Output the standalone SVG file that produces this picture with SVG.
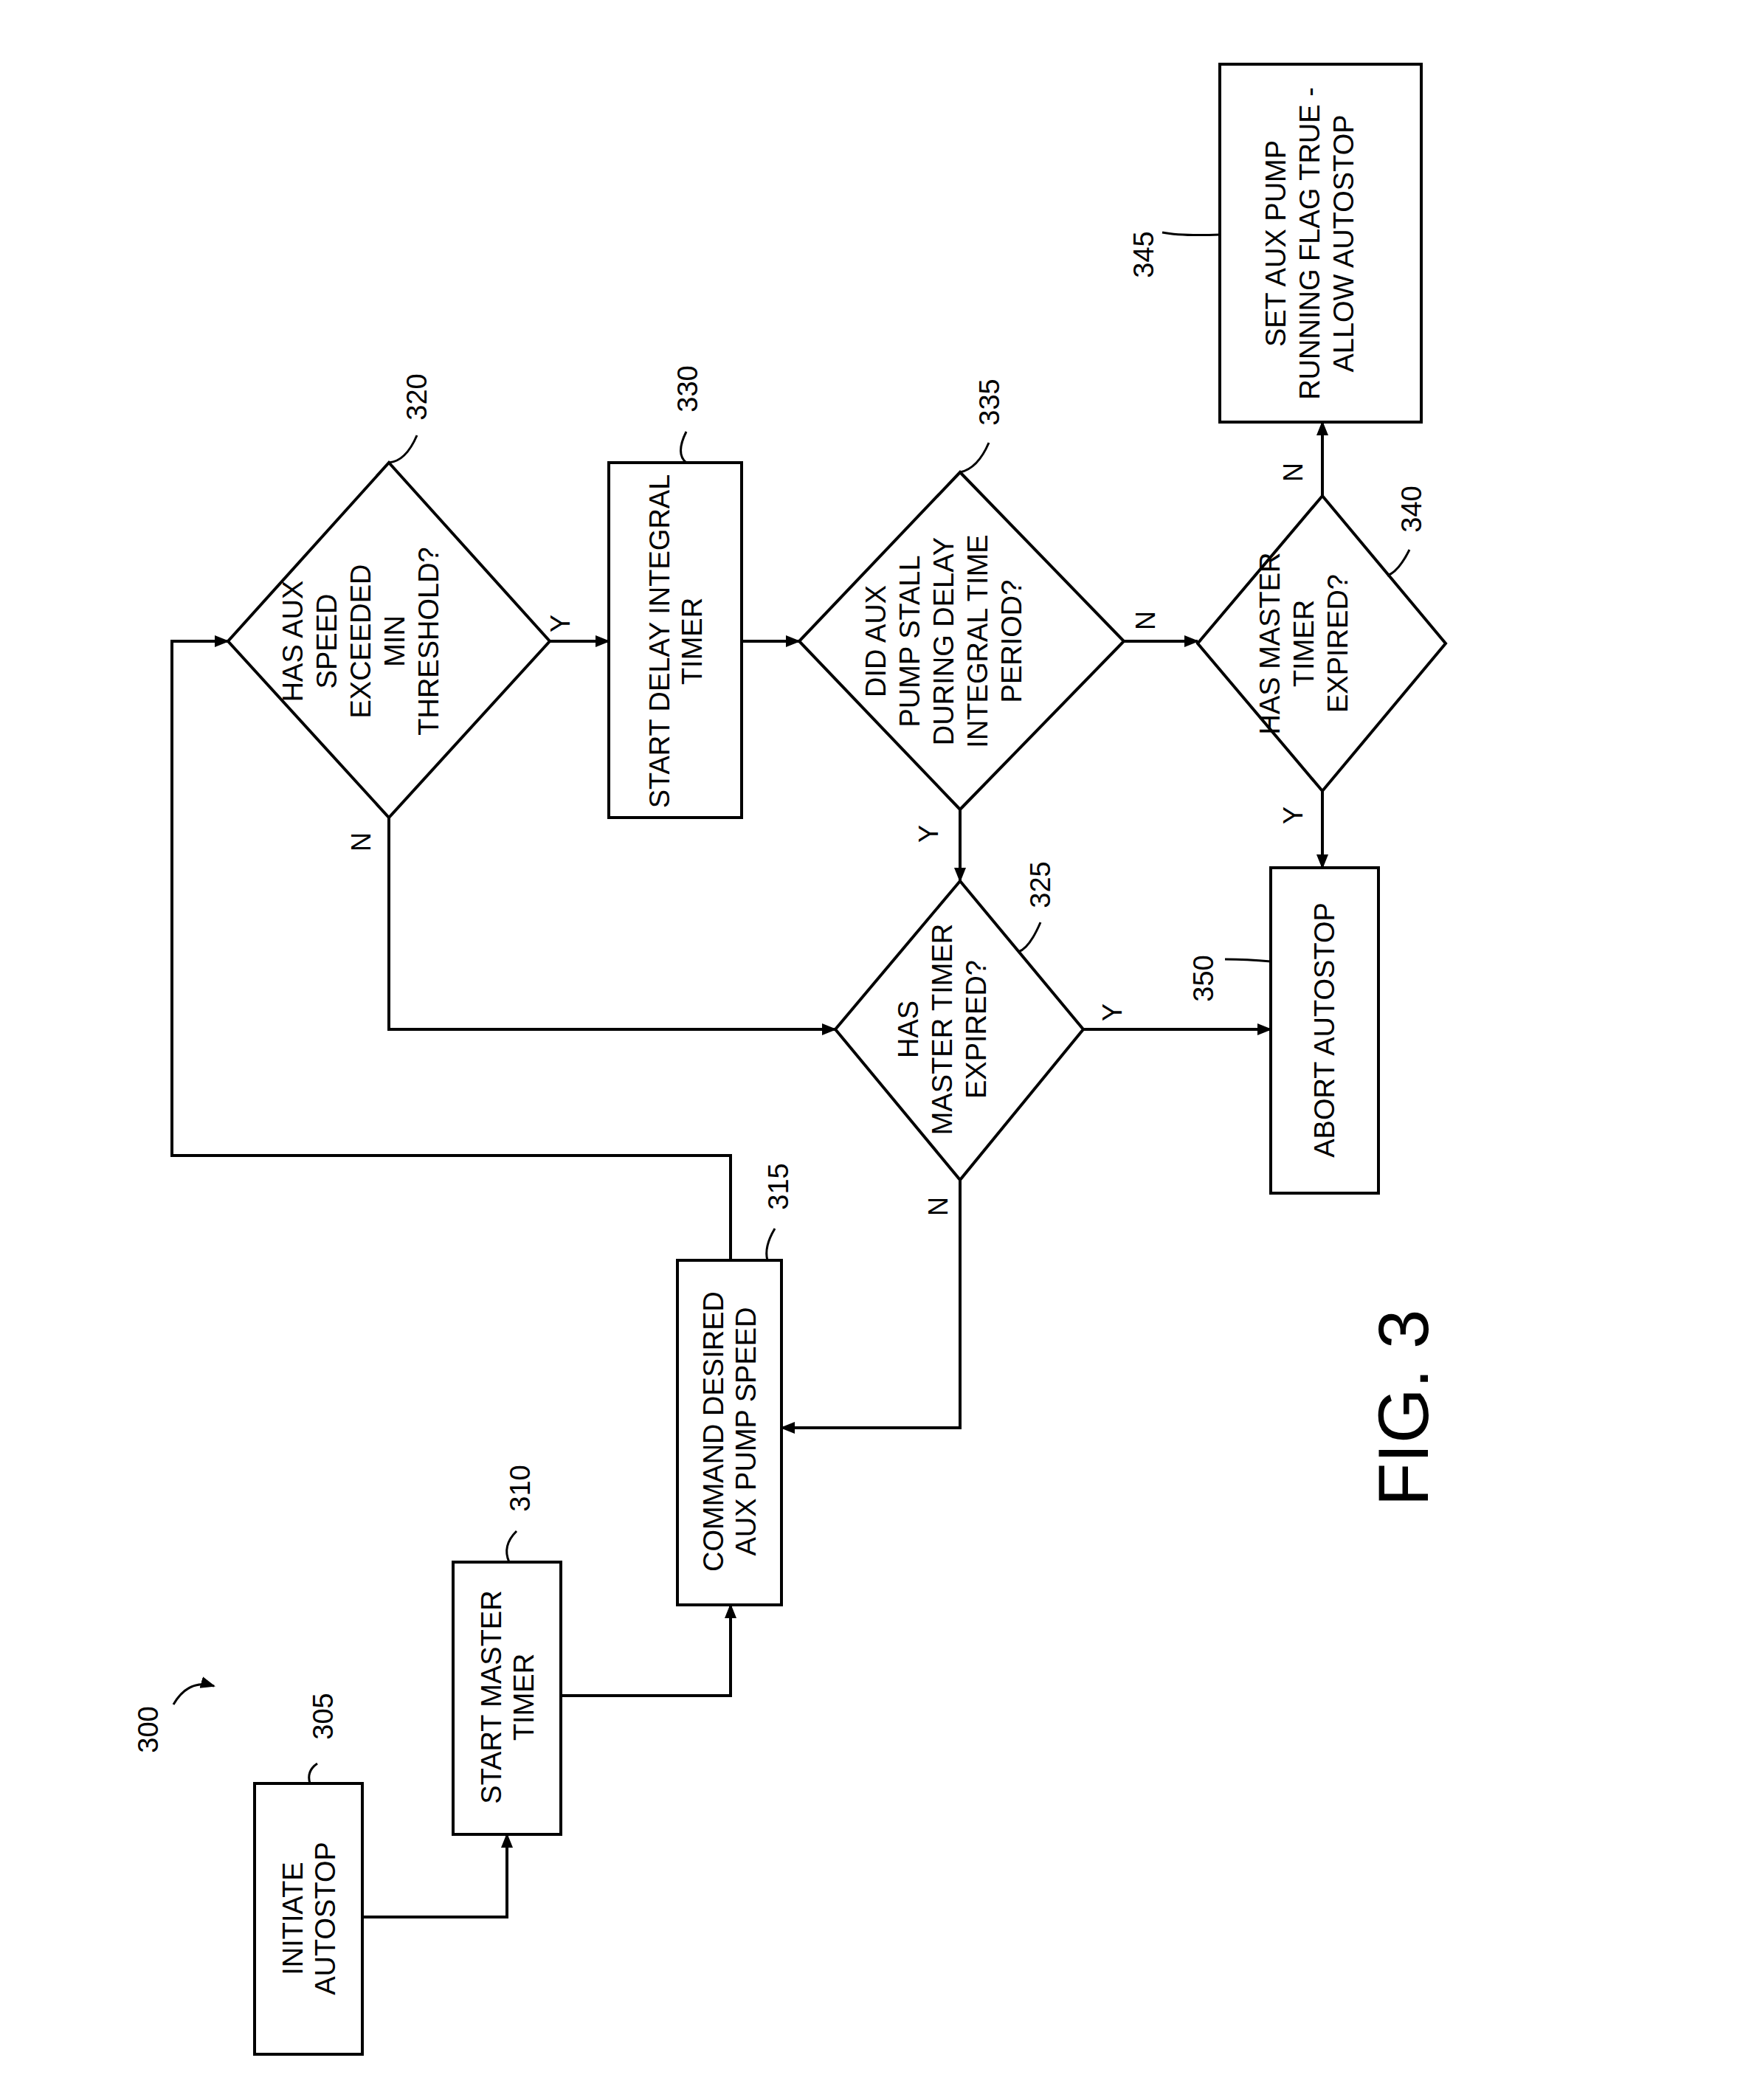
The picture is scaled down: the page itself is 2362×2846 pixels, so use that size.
<svg xmlns="http://www.w3.org/2000/svg" width="2362" height="2846" viewBox="0 0 2362 2846">
<style>
.s{fill:#fff;stroke:#000;stroke-width:4}
.c{fill:none;stroke:#000;stroke-width:4}
.l{fill:none;stroke:#000;stroke-width:3}
text{font-family:"Liberation Sans Narrow","Liberation Sans",Arial,sans-serif;font-size:38px;text-anchor:middle;fill:#000}
.n{font-size:36px}
</style>
<defs><marker id="a" markerWidth="10" markerHeight="10" refX="9" refY="5" orient="auto" markerUnits="userSpaceOnUse" viewBox="0 0 10 10"><path d="M0,0 L10,5 L0,10 z" fill="#000"/></marker>
<marker id="b" markerWidth="20" markerHeight="20" refX="18" refY="10" orient="auto" markerUnits="userSpaceOnUse" viewBox="0 0 20 20"><path d="M0,2 L20,10 L0,18 z" fill="#000"/></marker></defs>
<rect width="2362" height="2846" fill="#fff"/>
<g id="connectors">
<path class="c" d="M491,2598 H687 V2486" marker-end="url(#b)"/>
<path class="c" d="M760,2298 H990 V2175" marker-end="url(#b)"/>
<path class="c" d="M990,1708 V1566 H233 V869 H309" marker-end="url(#b)"/>
<path class="c" d="M745,869 H825" marker-end="url(#b)"/>
<path class="c" d="M527,1108 V1395 H1132" marker-end="url(#b)"/>
<path class="c" d="M1005,869 H1083" marker-end="url(#b)"/>
<path class="c" d="M1523,869 H1623" marker-end="url(#b)"/>
<path class="c" d="M1301,1097 V1194" marker-end="url(#b)"/>
<path class="c" d="M1792,672 V572" marker-end="url(#b)"/>
<path class="c" d="M1792,1072 V1176" marker-end="url(#b)"/>
<path class="c" d="M1468,1395 H1722" marker-end="url(#b)"/>
<path class="c" d="M1301,1599 V1935 H1059" marker-end="url(#b)"/>
<text class="n" transform="translate(772,845) rotate(-90)">Y</text>
<text class="n" transform="translate(502,1141) rotate(-90)">N</text>
<text class="n" transform="translate(1565,841) rotate(-90)">N</text>
<text class="n" transform="translate(1271,1130) rotate(-90)">Y</text>
<text class="n" transform="translate(1765,640) rotate(-90)">N</text>
<text class="n" transform="translate(1765,1105) rotate(-90)">Y</text>
<text class="n" transform="translate(1520,1372) rotate(-90)">Y</text>
<text class="n" transform="translate(1284,1635) rotate(-90)">N</text>
</g>
<g id="n305"><rect class="s" x="345" y="2417" width="146" height="367"/>
<text transform="translate(418,2600) rotate(-90)"><tspan x="0" y="-8">INITIATE</tspan><tspan x="0" y="36">AUTOSTOP</tspan></text>
<text transform="translate(451,2326) rotate(-90)">305</text><path class="l" d="M430,2390 Q415,2400 420,2417"/></g>
<g id="n310"><rect class="s" x="614" y="2117" width="146" height="369"/>
<text transform="translate(687,2300) rotate(-90)"><tspan x="0" y="-8">START MASTER</tspan><tspan x="0" y="36">TIMER</tspan></text>
<text transform="translate(718,2017) rotate(-90)">310</text><path class="l" d="M700,2075 Q680,2095 690,2117"/></g>
<g id="n315"><rect class="s" x="918" y="1708" width="141" height="467"/>
<text transform="translate(988,1940) rotate(-90)"><tspan x="0" y="-8">COMMAND DESIRED</tspan><tspan x="0" y="36">AUX PUMP SPEED</tspan></text>
<text transform="translate(1068,1608) rotate(-90)">315</text><path class="l" d="M1050,1665 Q1035,1690 1040,1708"/></g>
<g id="n320"><polygon class="s" points="527,627 745,869 527,1108 309,869"/>
<text transform="translate(490,869) rotate(-90)"><tspan x="0" y="-80">HAS AUX</tspan><tspan x="0" y="-34">SPEED</tspan><tspan x="0" y="12">EXCEEDED</tspan><tspan x="0" y="58">MIN</tspan><tspan x="0" y="104">THRESHOLD?</tspan></text>
<text transform="translate(578,538) rotate(-90)">320</text><path class="l" d="M565,590 Q550,625 527,627"/></g>
<g id="n330"><rect class="s" x="825" y="627" width="180" height="481"/>
<text transform="translate(915,869) rotate(-90)"><tspan x="0" y="-8">START DELAY INTEGRAL</tspan><tspan x="0" y="36">TIMER</tspan></text>
<text transform="translate(945,527) rotate(-90)">330</text><path class="l" d="M930,585 Q915,615 930,627"/></g>
<g id="n335"><polygon class="s" points="1301,640 1523,869 1301,1097 1083,869"/>
<text transform="translate(1290,869) rotate(-90)"><tspan x="0" y="-90">DID AUX</tspan><tspan x="0" y="-44">PUMP STALL</tspan><tspan x="0" y="2">DURING DELAY</tspan><tspan x="0" y="48">INTEGRAL TIME</tspan><tspan x="0" y="94">PERIOD?</tspan></text>
<text transform="translate(1354,545) rotate(-90)">335</text><path class="l" d="M1340,600 Q1325,635 1301,640"/></g>
<g id="n340"><polygon class="s" points="1792,672 1959,872 1792,1072 1623,872"/>
<text transform="translate(1780,872) rotate(-90)"><tspan x="0" y="-46">HAS MASTER</tspan><tspan x="0" y="0">TIMER</tspan><tspan x="0" y="46">EXPIRED?</tspan></text>
<text transform="translate(1926,690) rotate(-90)">340</text><path class="l" d="M1910,745 Q1895,775 1880,780"/></g>
<g id="n345"><rect class="s" x="1653" y="87" width="273" height="485"/>
<text transform="translate(1790,330) rotate(-90)"><tspan x="0" y="-48">SET AUX PUMP</tspan><tspan x="0" y="-2">RUNNING FLAG TRUE -</tspan><tspan x="0" y="44">ALLOW AUTOSTOP</tspan></text>
<text transform="translate(1563,345) rotate(-90)">345</text><path class="l" d="M1575,315 Q1600,320 1653,318"/></g>
<g id="n325"><polygon class="s" points="1301,1194 1468,1395 1301,1599 1132,1395"/>
<text transform="translate(1290,1395) rotate(-90)"><tspan x="0" y="-46">HAS</tspan><tspan x="0" y="0">MASTER TIMER</tspan><tspan x="0" y="46">EXPIRED?</tspan></text>
<text transform="translate(1423,1199) rotate(-90)">325</text><path class="l" d="M1410,1250 Q1395,1285 1380,1290"/></g>
<g id="n350"><rect class="s" x="1722" y="1176" width="146" height="441"/>
<text transform="translate(1808,1396) rotate(-90)">ABORT AUTOSTOP</text>
<text transform="translate(1644,1326) rotate(-90)">350</text><path class="l" d="M1660,1300 Q1690,1300 1722,1303"/></g>
<g id="labels">
<text transform="translate(214,2344) rotate(-90)">300</text>
<path class="l" d="M235,2310 Q255,2275 290,2285" marker-end="url(#b)"/>
<text transform="translate(1935,1908) rotate(-90)" style="font-family:'Liberation Sans',Arial,sans-serif;font-size:96px">FIG. 3</text>
</g>
</svg>
